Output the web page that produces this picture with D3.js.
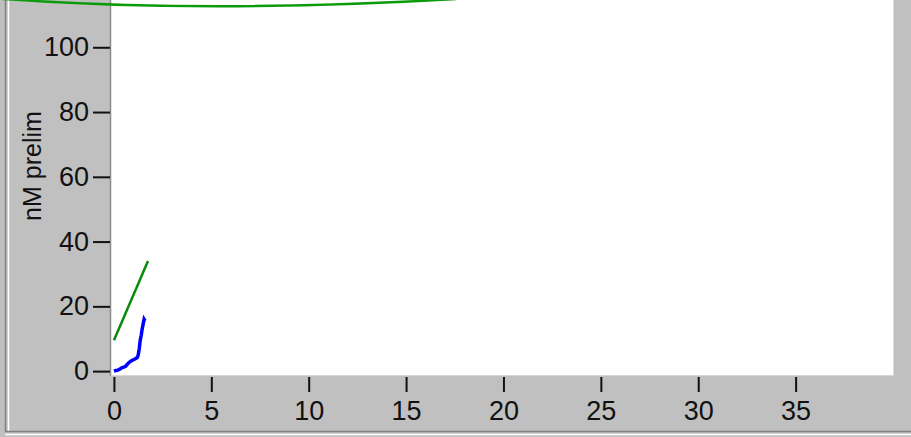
<!DOCTYPE html>
<html><head><meta charset="utf-8">
<script src="https://cdn.jsdelivr.net/npm/d3@7"></script>
<style>
html,body{margin:0;padding:0;background:#c0c0c0;overflow:hidden}
text{font-family:"Liberation Sans",Arial,sans-serif;fill:#111}
</style></head>
<body><svg id="c" width="911" height="437"></svg>
<script>
// data
const blueX = [0, 0.1, 0.2, 0.3, 0.4, 0.5, 0.6, 0.7, 0.8, 0.9, 1.0, 1.1, 1.2, 1.25, 1.3, 1.35, 1.4, 1.45, 1.5, 1.55, 1.6];
const blueY = [0, 0.2, 0.3, 0.6, 1.0, 1.2, 1.5, 2.2, 2.8, 3.2, 3.5, 3.8, 4.2, 5.0, 7.0, 9.5, 11.0, 13.0, 14.5, 16.0, 15.5];
const greenX = [0, 0.25, 0.5, 0.75, 1.0, 1.25, 1.5, 1.75];
const greenY = [9.5, 13.0, 16.5, 20.0, 23.5, 27.0, 30.5, 34.0];
const xTicks = [0, 5, 10, 15, 20, 25, 30, 35];
const yTicks = [0, 20, 40, 60, 80, 100];
const yLabel = "nM prelim";

const svg = d3.select("#c");
const W = 911, H = 437;
const plot = {l: 111, r: 893, t: 0, b: 375};

// frame
svg.append("rect").attr("x",0).attr("y",0).attr("width",W).attr("height",H).attr("fill","#c0c0c0");
svg.append("line").attr("x1",5.5).attr("x2",5.5).attr("y1",0).attr("y2",431).attr("stroke","#808080").attr("stroke-width",1.5);
svg.append("line").attr("x1",8.5).attr("x2",8.5).attr("y1",0).attr("y2",431).attr("stroke","#ffffff").attr("stroke-width",1.5);
svg.append("line").attr("x1",5).attr("x2",W).attr("y1",431.5).attr("y2",431.5).attr("stroke","#808080").attr("stroke-width",1.5);
svg.append("line").attr("x1",5).attr("x2",W).attr("y1",434.5).attr("y2",434.5).attr("stroke","#ffffff").attr("stroke-width",1.5);

const x = d3.scaleLinear().domain([-0.15, 40]).range([plot.l, plot.r]);
const y = d3.scaleLinear().domain([-1.2, 114.6]).range([plot.b, plot.t]);

svg.append("rect").attr("x",plot.l).attr("y",plot.t).attr("width",plot.r-plot.l).attr("height",plot.b-plot.t).attr("fill","#ffffff");
svg.append("line").attr("x1",plot.l-0.5).attr("x2",plot.l-0.5).attr("y1",0).attr("y2",plot.b+1).attr("stroke","#8a8a8a").attr("stroke-width",1.5);
svg.append("line").attr("x1",plot.r+0.5).attr("x2",plot.r+0.5).attr("y1",0).attr("y2",plot.b+1).attr("stroke","#dcdcdc").attr("stroke-width",1);
svg.append("line").attr("x1",plot.l).attr("x2",plot.r+1).attr("y1",plot.b+0.5).attr("y2",plot.b+0.5).attr("stroke","#d6d6d6").attr("stroke-width",1);

// y axis
const yAxis = d3.axisLeft(y).tickValues(yTicks).tickSize(17).tickPadding(4).tickFormat(d3.format("d"));
const gy = svg.append("g").attr("transform",`translate(${plot.l-1},0)`).call(yAxis);
gy.select(".domain").remove();
gy.selectAll(".tick line").attr("stroke","#111").attr("stroke-width",2);
gy.selectAll(".tick text").attr("font-size",27).attr("fill","#111").attr("font-family","Liberation Sans, Arial, sans-serif");

// x axis
const xAxis = d3.axisBottom(x).tickValues(xTicks).tickSize(15).tickPadding(9).tickFormat(d3.format("d"));
const gx = svg.append("g").attr("transform",`translate(0,${plot.b+2})`).call(xAxis);
gx.select(".domain").remove();
gx.selectAll(".tick line").attr("stroke","#111").attr("stroke-width",2);
gx.selectAll(".tick text").attr("font-size",27).attr("fill","#111").attr("font-family","Liberation Sans, Arial, sans-serif");

// y label
svg.append("text").attr("transform","translate(41,166) rotate(-90)").attr("text-anchor","middle")
  .attr("font-size",25).text(yLabel);

// series
const clip = svg.append("clipPath").attr("id","pc").append("rect")
  .attr("x",plot.l).attr("y",plot.t).attr("width",plot.r-plot.l).attr("height",plot.b-plot.t);
const line = d3.line().x(d=>x(d[0])).y(d=>y(d[1])).curve(d3.curveStepAfter);
const lineLin = d3.line().x(d=>x(d[0])).y(d=>y(d[1]));
svg.append("path").attr("clip-path","url(#pc)").datum(greenX.map((v,i)=>[v,greenY[i]]))
  .attr("d",lineLin).attr("fill","none").attr("stroke","#0a8a0a").attr("stroke-width",2.5);
svg.append("path").attr("clip-path","url(#pc)").datum(blueX.map((v,i)=>[v,blueY[i]]))
  .attr("d",lineLin).attr("fill","none").attr("stroke","#0000ff").attr("stroke-width",3.5);

// green arc at top (overlay artifact)
svg.append("path").attr("d","M -10,-2 Q 200,14 456,-1").attr("fill","none")
  .attr("stroke","#0a9a0a").attr("stroke-width",2.5);
</script></body></html>
